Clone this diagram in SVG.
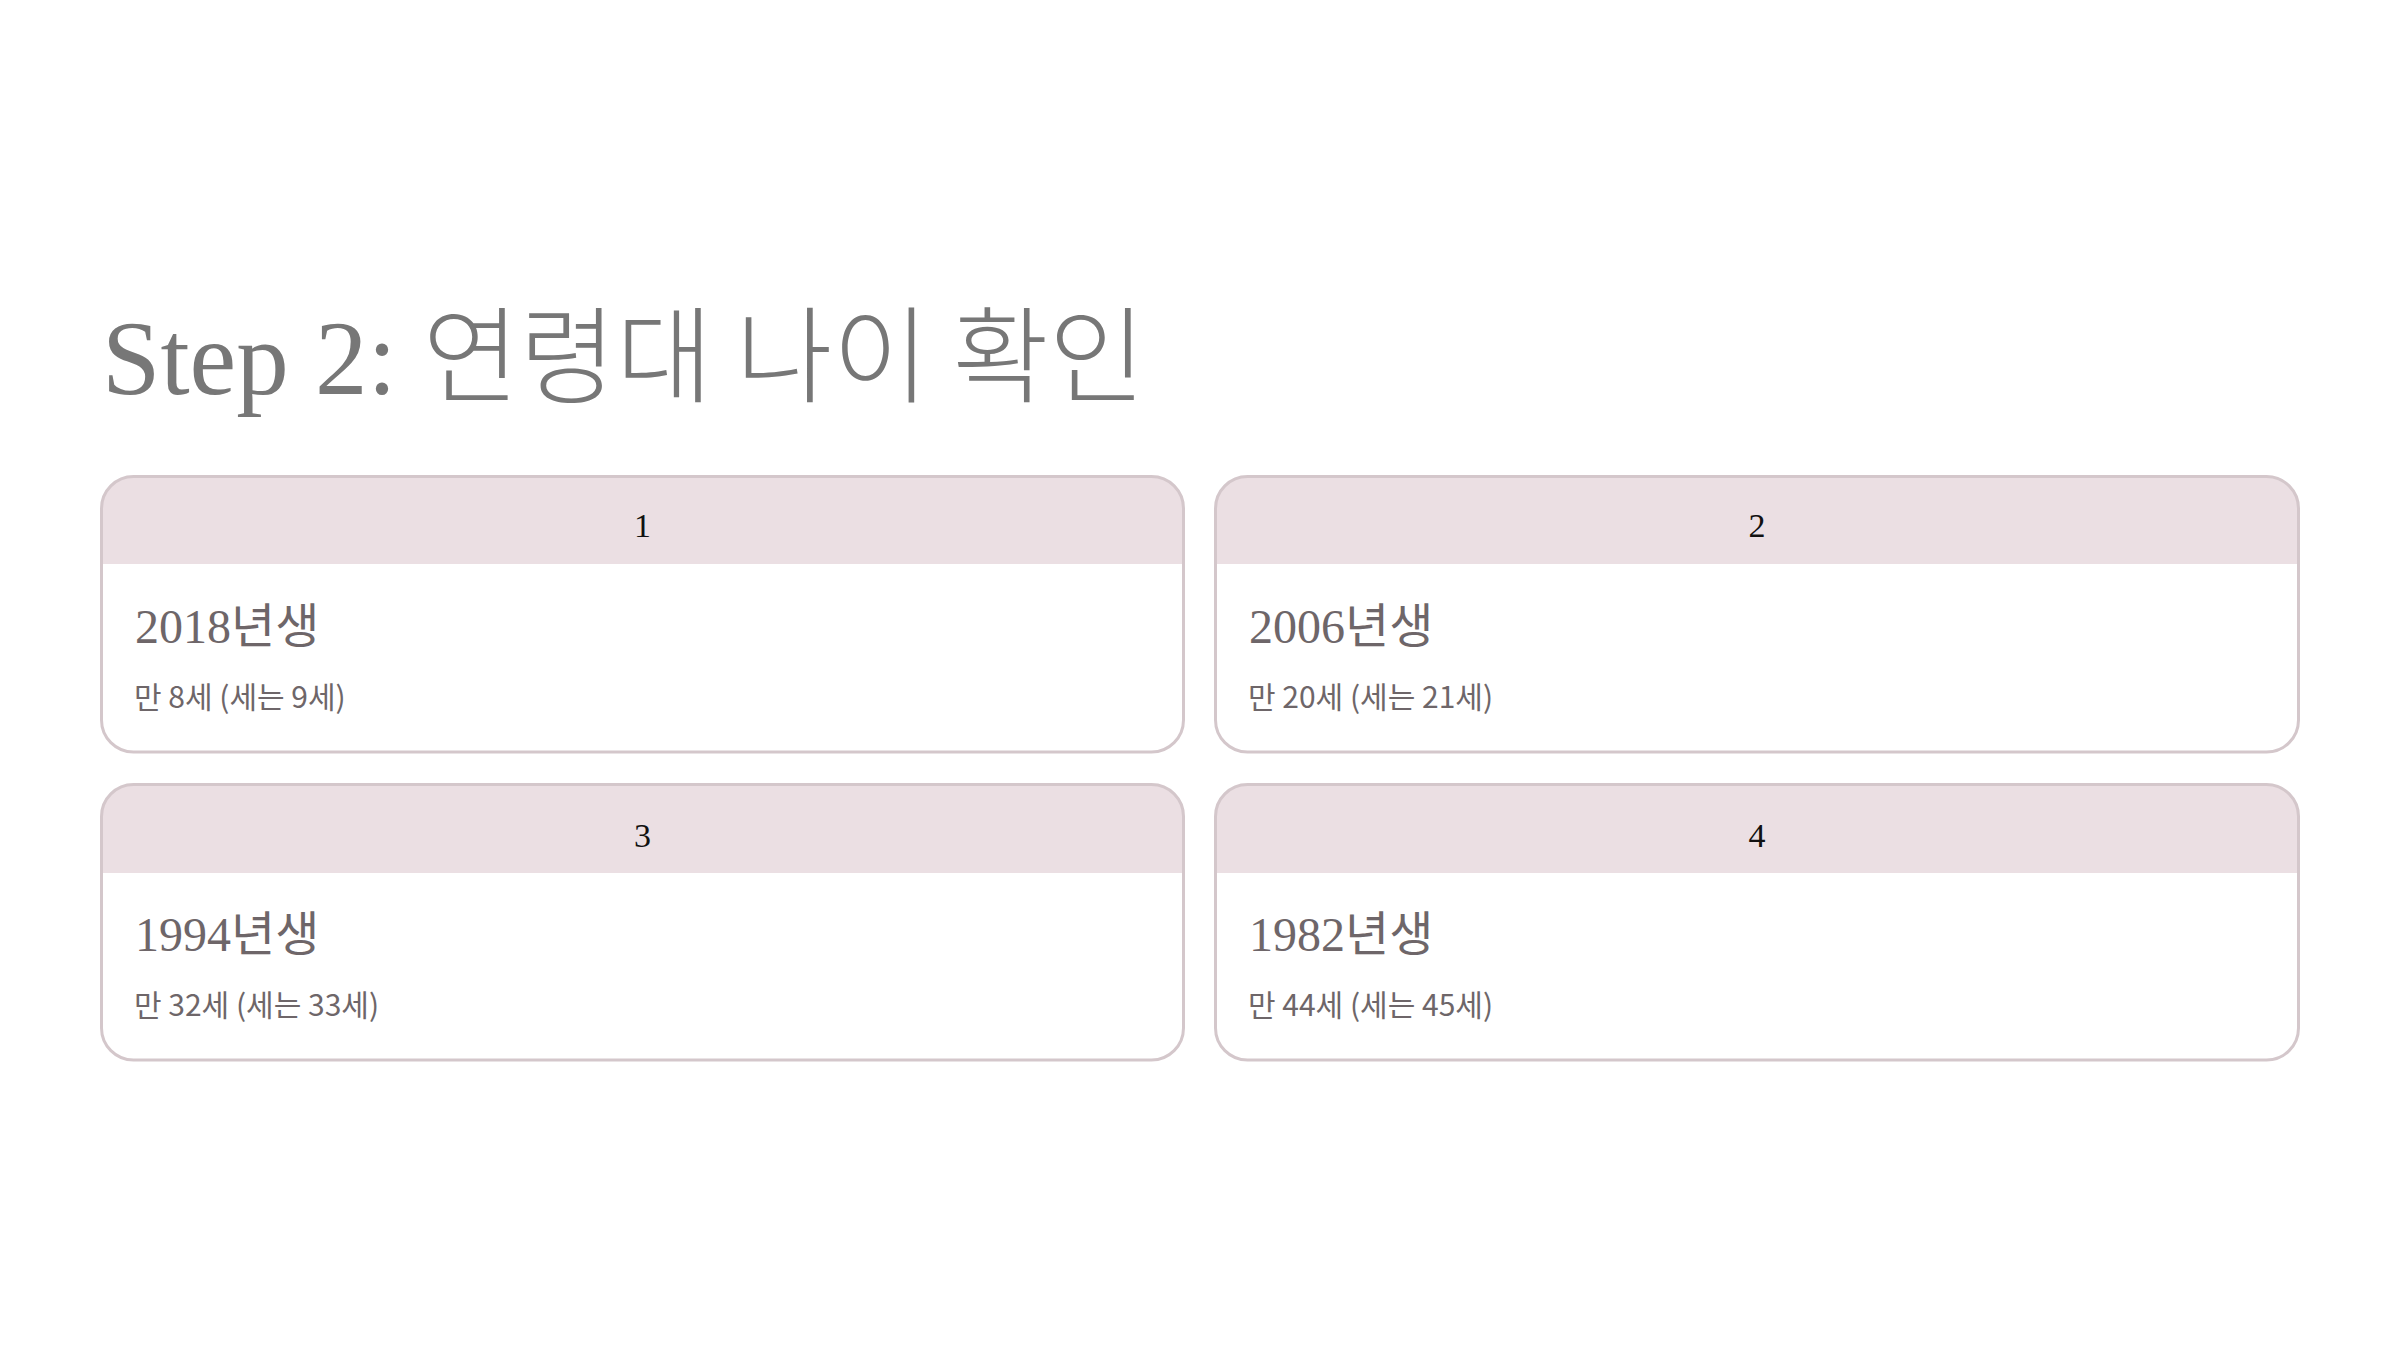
<svg xmlns="http://www.w3.org/2000/svg" width="2400" height="1350" viewBox="0 0 2400 1350">
<style>
.title{font-family:"Liberation Serif","Noto Sans CJK KR",serif;font-size:105px;fill:#777777}
.hdr{fill:#ebdfe3}
.border{fill:none;stroke:#d4c7cb;stroke-width:3}
.num{font-family:"Liberation Serif","Noto Sans CJK KR",serif;font-size:34px;fill:#111111;text-anchor:middle}
.year{font-family:"Liberation Serif","Noto Sans CJK KR",serif;font-size:48px;fill:#6e6669}
.sub{font-family:"Noto Sans CJK KR","Noto Sans",sans-serif;font-size:30px;fill:#6e6669}
</style>
<rect width="2400" height="1350" fill="#ffffff"/>
<text class="title" x="102" y="394">Step 2: <tspan font-family="Noto Sans CJK KR, sans-serif" font-size="105" font-weight="300">연령대 나이 확인</tspan></text>

<g id="card1">
<rect x="101.5" y="476.5" width="1082" height="275.5" rx="32" fill="#ffffff"/>
<path class="hdr" d="M101.5,564 V508.5 A32,32 0 0 1 133.5,476.5 H1151.5 A32,32 0 0 1 1183.5,508.5 V564 Z"/>
<rect class="border" x="101.5" y="476.5" width="1082" height="275.5" rx="32"/>
<text class="num" x="642.5" y="537">1</text>
<text class="year" x="135" y="643">2018<tspan font-family="Noto Sans CJK KR, sans-serif" font-size="48">년생</tspan></text>
<text class="sub" x="134" y="708">만 8세 (세는 9세)</text>
</g>

<g id="card2">
<rect x="1215.5" y="476.5" width="1083" height="275.5" rx="32" fill="#ffffff"/>
<path class="hdr" d="M1215.5,564 V508.5 A32,32 0 0 1 1247.5,476.5 H2266.5 A32,32 0 0 1 2298.5,508.5 V564 Z"/>
<rect class="border" x="1215.5" y="476.5" width="1083" height="275.5" rx="32"/>
<text class="num" x="1757" y="537">2</text>
<text class="year" x="1249" y="643">2006<tspan font-family="Noto Sans CJK KR, sans-serif" font-size="48">년생</tspan></text>
<text class="sub" x="1248" y="708">만 20세 (세는 21세)</text>
</g>

<g id="card3">
<rect x="101.5" y="784.5" width="1082" height="275.5" rx="32" fill="#ffffff"/>
<path class="hdr" d="M101.5,873 V816.5 A32,32 0 0 1 133.5,784.5 H1151.5 A32,32 0 0 1 1183.5,816.5 V873 Z"/>
<rect class="border" x="101.5" y="784.5" width="1082" height="275.5" rx="32"/>
<text class="num" x="642.5" y="847">3</text>
<text class="year" x="135" y="951">1994<tspan font-family="Noto Sans CJK KR, sans-serif" font-size="48">년생</tspan></text>
<text class="sub" x="134" y="1016">만 32세 (세는 33세)</text>
</g>

<g id="card4">
<rect x="1215.5" y="784.5" width="1083" height="275.5" rx="32" fill="#ffffff"/>
<path class="hdr" d="M1215.5,873 V816.5 A32,32 0 0 1 1247.5,784.5 H2266.5 A32,32 0 0 1 2298.5,816.5 V873 Z"/>
<rect class="border" x="1215.5" y="784.5" width="1083" height="275.5" rx="32"/>
<text class="num" x="1757" y="847">4</text>
<text class="year" x="1249" y="951">1982<tspan font-family="Noto Sans CJK KR, sans-serif" font-size="48">년생</tspan></text>
<text class="sub" x="1248" y="1016">만 44세 (세는 45세)</text>
</g>

<g id="connectors"></g>
</svg>
